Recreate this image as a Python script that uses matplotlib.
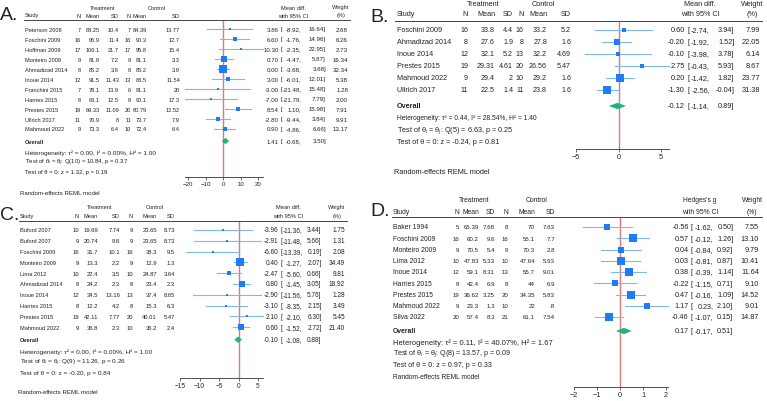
import numpy as np
import matplotlib
matplotlib.use("Agg")
import matplotlib.pyplot as plt
from matplotlib.lines import Line2D

plt.rcParams['font.family'] = ['Liberation Sans', 'DejaVu Sans']
plt.rcParams['mathtext.fontset'] = 'custom'
plt.rcParams['mathtext.rm'] = 'Liberation Sans'
plt.rcParams['mathtext.it'] = 'Liberation Sans:italic'

W, H = 767, 402

# ---------------- data ----------------
# A
studies_a = ["Peterson 2008", "Foschini 2009", "Hoffman 2009", "Monteiro 2009", "Ahmadizad 2014",
             "Inoue 2014", "Franchini 2015", "Harries 2015", "Prestes 2015", "Ullrich 2017", "Mahmoud 2022"]
tn_a = [7, 16, 17, 9, 8, 12, 7, 8, 19, 11, 9]
tm_a = [88.25, 96.9, 106.1, 81.8, 85.2, 91.5, 78.1, 83.1, 69.33, 70.9, 73.3]
tsd_a = [10.4, 11.4, 21.7, 7.2, 3.6, 11.43, 13.9, 12.5, 11.09, 8, 6.4]
cn_a = [7, 16, 17, 9, 8, 13, 6, 8, 20, 11, 10]
cm_a = [84.39, 90.3, 95.8, 81.1, 85.2, 88.5, 81.1, 90.1, 60.79, 73.7, 72.4]
csd_a = [13.77, 12.7, 15.4, 3.3, 3.9, 11.54, 20, 17.3, 12.52, 7.9, 6.4]
est_a = [3.86, 6.60, 10.30, 0.70, 0.00, 3.00, -3.00, -7.00, 8.54, -2.80, 0.90]
lo_a = [-8.92, -1.76, -2.35, -4.47, -3.68, -6.01, -21.48, -21.79, 1.10, -9.44, -4.86]
hi_a = [16.64, 14.96, 22.95, 5.87, 3.68, 12.01, 15.48, 7.79, 15.98, 3.84, 6.66]
w_a = [2.68, 6.26, 2.73, 16.34, 32.34, 5.38, 1.28, 2.00, 7.91, 9.91, 13.17]
overall_a = [1.41, -0.68, 3.50]
stats_a = ["τ² = 0.00, I² = 0.00%, H² = 1.00", "Q(10) = 10.84, p = 0.37", "z = 1.32, p = 0.19"]
ticks_a = [-20, -10, 0, 10, 20]

# B
studies_b = ["Foschini 2009", "Ahmadizad 2014", "Inoue 2014", "Prestes 2015", "Mahmoud 2022", "Ullrich 2017"]
tn_b = [16, 8, 12, 19, 9, 11]
tm_b = [33.8, 27.6, 32.1, 29.31, 29.4, 22.5]
tsd_b = [4.4, 1.9, 5.2, 4.61, 2, 1.4]
cn_b = [16, 8, 13, 20, 10, 11]
cm_b = [33.2, 27.8, 32.2, 26.56, 29.2, 23.8]
csd_b = [5.2, 1.6, 4.69, 5.47, 1.6, 1.6]
est_b = [0.60, -0.20, -0.10, 2.75, 0.20, -1.30]
lo_b = [-2.74, -1.92, -3.98, -0.43, -1.42, -2.56]
hi_b = [3.94, 1.52, 3.78, 5.93, 1.82, -0.04]
w_b = [7.99, 22.05, 6.14, 8.67, 23.77, 31.38]
overall_b = [-0.12, -1.14, 0.89]
stats_b = ["τ² = 0.44, I² = 28.54%, H² = 1.40", "Q(5) = 6.63, p = 0.25", "z = -0.24, p = 0.81"]
ticks_b = [-5, 0, 5]

# C
studies_c = ["Buford 2007", "Buford 2007", "Foschini 2009", "Monteiro 2009", "Lima 2012",
             "Ahmadizad 2014", "Inoue 2014", "Harries 2015", "Prestes 2015", "Mahmoud 2022"]
tn_c = [10, 9, 16, 9, 10, 8, 12, 8, 19, 9]
tm_c = [19.69, 20.74, 31.7, 13.3, 22.4, 24.2, 34.5, 12.2, 42.11, 36.8]
tsd_c = [7.74, 9.8, 10.1, 2.2, 3.5, 2.3, 13.16, 4.2, 7.77, 2.3]
cn_c = [9, 9, 16, 9, 10, 8, 13, 8, 20, 10]
cm_c = [23.65, 23.65, 38.3, 12.9, 24.87, 23.4, 37.4, 15.3, 40.01, 36.2]
csd_c = [8.73, 8.73, 9.5, 1.3, 3.64, 2.3, 8.65, 6.3, 5.47, 2.4]
est_c = [-3.96, -2.91, -6.60, 0.40, -2.47, 0.80, -2.90, -3.10, 2.10, 0.60]
lo_c = [-11.36, -11.48, -13.39, -1.27, -5.60, -1.45, -11.56, -8.35, -2.10, -1.52]
hi_c = [3.44, 5.66, 0.19, 2.07, 0.66, 3.05, 5.76, 2.15, 6.30, 2.72]
w_c = [1.75, 1.31, 2.08, 34.49, 9.81, 18.92, 1.28, 3.49, 5.45, 21.40]
overall_c = [-0.10, -1.08, 0.88]
stats_c = ["τ² = 0.00, I² = 0.00%, H² = 1.00", "Q(9) = 11.26, p = 0.26", "z = -0.20, p = 0.84"]
ticks_c = [-15, -10, -5, 0, 5]

# D
studies_d = ["Baker 1994", "Foschini 2009", "Monteiro 2009", "Lima 2012", "Inoue 2014",
             "Harries 2015", "Prestes 2015", "Mahmoud 2022", "Silva 2022"]
tn_d = [5, 16, 9, 10, 12, 8, 19, 9, 20]
tm_d = [65.39, 60.2, 70.5, 47.83, 59.1, 42.4, 36.62, 23.3, 57.4]
tsd_d = [7.68, 9.6, 5.4, 5.33, 8.31, 6.9, 3.25, 1.3, 8.3]
cn_d = [8, 16, 9, 10, 13, 8, 20, 10, 21]
cm_d = [70, 55.1, 70.3, 47.64, 55.7, 44, 34.35, 22, 61.1]
csd_d = [7.63, 7.7, 2.8, 5.93, 9.01, 6.9, 5.83, 0.8, 7.54]
est_d = [-0.56, 0.57, 0.04, 0.03, 0.38, -0.22, 0.47, 1.17, -0.46]
lo_d = [-1.62, -0.12, -0.84, -0.81, -0.39, -1.15, -0.16, 0.23, -1.07]
hi_d = [0.50, 1.26, 0.92, 0.87, 1.14, 0.71, 1.09, 2.10, 0.15]
w_d = [7.55, 13.10, 9.79, 10.41, 11.64, 9.10, 14.52, 9.01, 14.87]
overall_d = [0.17, -0.17, 0.51]
stats_d = ["τ² = 0.11, I² = 40.07%, H² = 1.67", "Q(8) = 13.57, p = 0.09", "z = 0.97, p = 0.33"]
ticks_d = [-2, -1, 0, 1, 2]

# ---------------- layout (pixels, y from top) ----------------
# fs: names/headers, fst: table numbers, fsn: effect column, fsh: heterogeneity line,
# fsq: test lines, fsr: footer; pad: width (em) of "[" + widest lower bound field
lay_a = dict(label="A.", lab=(0, 16), fs=4.1, fst=4.1, fsn=4.45, fsh=4.6, fsq=4.35, fsr=4.45,
             h1=8, h2=16, line=21, lx=(24, 350),
             y0=30, dy=10, yov=142, yhet=153, yq=163, yz=173, yax=178, yre=194, xre=20,
             study=25, cols=[80.5, 100, 119, 131, 147, 180], trt=103, ctl=157,
             zero=223, scale=1.75, e=[301.7, 326, 348], pad=3.39, ehead=293, whead=341,
             effname="Mean diff.", maxpx=7.8)
lay_b = dict(label="B.", lab=(370, 17), fs=5.2, fst=5.1, fsn=5.3, fsh=4.8, fsq=5.2, fsr=5.3,
             h1=5, h2=14, line=22, lx=(395, 762),
             y0=30.7, dy=12.06, yov=107, yhet=119, yq=131, yz=143, yax=150, yre=172, xre=394,
             study=397, cols=[468, 495, 513, 524, 547, 571], trt=483, ctl=543,
             zero=618.5, scale=8.5, e=[710, 734.3, 760], pad=3.11, ehead=700, whead=752,
             effname="Mean diff.", maxpx=8.3)
lay_c = dict(label="C.", lab=(0, 216), fs=4.1, fst=4.2, fsn=4.7, fsh=4.65, fsq=4.55, fsr=4.4,
             h1=208, h2=217, line=221.5, lx=(19, 347),
             y0=231, dy=10.8, yov=340.7, yhet=351.7, yq=362.7, yz=373.3, yax=379, yre=393, xre=18,
             study=20, cols=[79, 98, 120, 133, 157, 175], trt=100, ctl=155,
             zero=238.5, scale=3.9, e=[302.7, 321.7, 345], pad=3.39, ehead=288, whead=337,
             effname="Mean diff.", maxpx=7.2)
lay_d = dict(label="D.", lab=(370, 212), fs=4.85, fst=4.4, fsn=5.2, fsh=5.5, fsq=5.1, fsr=4.8,
             h1=201, h2=212, line=218, lx=(392, 762),
             y0=228, dy=11.25, yov=332, yhet=343, yq=354, yz=366, yax=388, yre=378, xre=393,
             study=393, cols=[459, 479, 495, 508, 535, 555], trt=474, ctl=537,
             zero=620, scale=23, e=[713.3, 733.3, 759], pad=3.11, ehead=700, whead=752,
             effname="Hedges's g", maxpx=8.5)

TXT = '#222222'
BOX = '#1f7cf2'
CI = '#7fb8ea'
DIAM = '#1fb57c'
REF = '#d97b7b'

fig = plt.figure(figsize=(W / 100, H / 100), dpi=100)


def fx(x):
    return x / W


def fy(y):
    return 1 - y / H


def fmt(v):
    s = f"{v:g}"
    if s.startswith("0."):
        s = s[1:]
    return s


def put(x, y, s, fs, ha='left', **kw):
    fig.text(fx(x), fy(y), s, fontsize=fs, ha=ha, va='center', color=TXT, **kw)


def effect_text(L, y, est, lo, hi, w=None):
    fsn = L['fsn']
    em = fsn * 100 / 72
    x_lo, x_hi, x_w = L['e']
    x_br = x_lo - L['pad'] * em
    put(x_br - 0.3 * em, y, f"{est:.2f}", fsn, ha='right')
    put(x_br, y, "[", fsn)
    put(x_lo, y, f"{lo:.2f},", fsn, ha='right')
    put(x_hi, y, f"{hi:.2f}]", fsn, ha='right')
    if w is not None:
        put(x_w, y, f"{w:.2f}", fsn, ha='right')


def forest(L, studies, tn, tm, tsd, cn, cm, csd, est, lo, hi, w, overall, stats, ticks):
    fs = L['fs']
    n = len(studies)
    put(L['lab'][0], L['lab'][1], L['label'], 14)
    # table headers
    put(L['trt'], L['h1'], "Treatment", fs, ha='center')
    put(L['ctl'], L['h1'], "Control", fs, ha='center')
    put(L['study'], L['h2'], "Study", fs)
    for x, s in zip(L['cols'], ["N", "Mean", "SD", "N", "Mean", "SD"]):
        put(x, L['h2'], s, fs, ha='right')
    put(L['ehead'], L['h1'], L['effname'], fs, ha='center')
    put(L['ehead'], L['h2'], "with 95% CI", fs, ha='center')
    put(L['whead'], L['h1'], "Weight", fs, ha='center')
    put(L['whead'], L['h2'], "(%)", fs, ha='center')
    fig.add_artist(Line2D([fx(L['lx'][0]), fx(L['lx'][1])], [fy(L['line'])] * 2,
                          transform=fig.transFigure, color='#444444', lw=0.7))
    # table rows
    for i in range(n):
        y = L['y0'] + i * L['dy']
        put(L['study'], y, studies[i], fs)
        vals = [str(tn[i]), fmt(tm[i]), fmt(tsd[i]), str(cn[i]), fmt(cm[i]), fmt(csd[i])]
        for x, s in zip(L['cols'], vals):
            put(x, y, s, L['fst'], ha='right')
        effect_text(L, y, est[i], lo[i], hi[i], w[i])
    put(L['study'], L['yov'], "Overall", fs, fontweight='bold')
    effect_text(L, L['yov'], overall[0], overall[1], overall[2])
    put(L['study'], L['yhet'], "Heterogeneity: " + stats[0], L['fsh'])
    put(L['study'], L['yq'], r"Test of θ$_i$ = θ$_j$: " + stats[1], L['fsq'])
    put(L['study'], L['yz'], "Test of θ = 0: " + stats[2], L['fsq'])
    put(L['xre'], L['yre'], "Random-effects REML model", L['fsr'])

    # forest axes
    x0 = min(min(lo), ticks[0])
    x1 = max(max(hi), ticks[-1])
    left = L['zero'] + x0 * L['scale']
    right = L['zero'] + x1 * L['scale']
    ax = fig.add_axes([fx(left), fy(L['yax']), (right - left) / W, (L['yax'] - L['line']) / H])
    ax.set_xlim(x0, x1)
    ax.set_ylim((L['yax'] - L['y0']) / L['dy'], (L['line'] - L['y0']) / L['dy'])
    ax.patch.set_alpha(0)
    for s in ['left', 'right', 'top']:
        ax.spines[s].set_visible(False)
    ax.spines['bottom'].set_linewidth(0.6)
    ax.spines['bottom'].set_color('#333333')
    ax.set_yticks([])
    ax.set_xticks(ticks)
    ax.tick_params(axis='x', length=2, width=0.5, pad=1, labelsize=L['fsn'], labelcolor=TXT, color='#333333')
    ax.axvline(0, color=REF, lw=1.0, zorder=1)
    wmax = max(w)
    for i in range(n):
        ax.plot([lo[i], hi[i]], [i, i], color=CI, lw=0.8, zorder=2, clip_on=False)
        side = max(L['maxpx'] * np.sqrt(w[i] / wmax), 2.2) * 0.72
        ax.plot(est[i], i, 's', ms=side, color=BOX, mec=BOX, mew=0, zorder=3, clip_on=False)
    r = (L['yov'] - L['y0']) / L['dy']
    hh = 3.2 / L['dy']
    ax.fill([overall[1], overall[0], overall[2], overall[0]], [r, r - hh, r, r + hh],
            color=DIAM, lw=0, zorder=3)


forest(lay_a, studies_a, tn_a, tm_a, tsd_a, cn_a, cm_a, csd_a, est_a, lo_a, hi_a, w_a, overall_a, stats_a, ticks_a)
forest(lay_b, studies_b, tn_b, tm_b, tsd_b, cn_b, cm_b, csd_b, est_b, lo_b, hi_b, w_b, overall_b, stats_b, ticks_b)
forest(lay_c, studies_c, tn_c, tm_c, tsd_c, cn_c, cm_c, csd_c, est_c, lo_c, hi_c, w_c, overall_c, stats_c, ticks_c)
forest(lay_d, studies_d, tn_d, tm_d, tsd_d, cn_d, cm_d, csd_d, est_d, lo_d, hi_d, w_d, overall_d, stats_d, ticks_d)

fig.savefig("out.png", dpi=100, facecolor='white')
